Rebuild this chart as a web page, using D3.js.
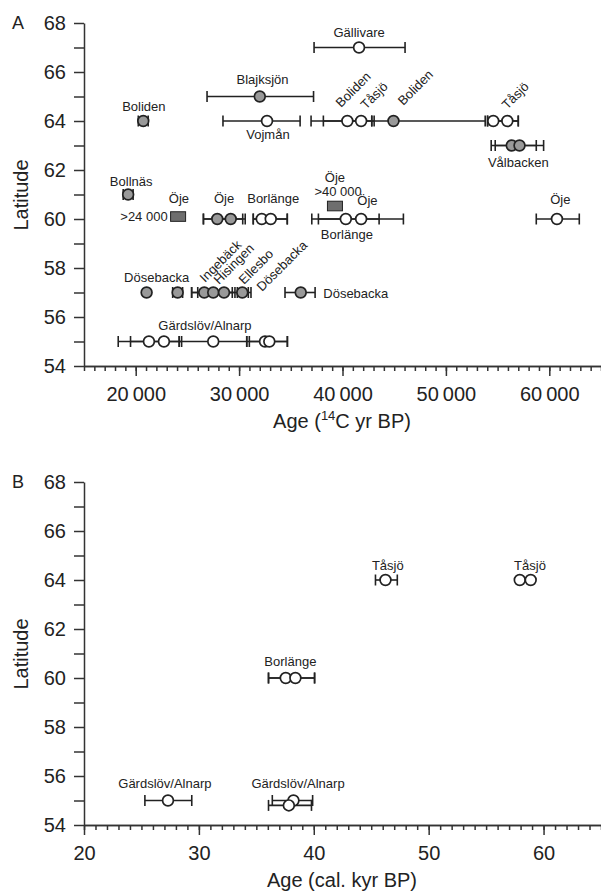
<!DOCTYPE html>
<html>
<head>
<meta charset="utf-8">
<script src="https://cdn.jsdelivr.net/npm/d3@7"></script>
<style>
  body { margin: 0; background: #fff; }
  svg { display: block; font-family: "Liberation Sans", Arial, sans-serif; }
  .axis path, .axis line { stroke: #333; stroke-width: 1.5; }
  .axis text { font-size: 20px; fill: #222; }
  .lbl { font-size: 13px; fill: #222; }
  .title { font-size: 20px; fill: #222; }
</style>
</head>
<body>
<svg id="chart" width="601" height="893"></svg>
<script>
// panel A: radiocarbon ages, [age, latitude, low, high, kind]
const pointsA = [
  [41600, 67, 37250, 46050, "open"],
  [32000, 65, 26900, 37200, "grey"],
  [20730, 64, 20250, 21210, "grey"],
  [32700, 64, 28440, 35900, "open"],
  [40470, 64, 36960, 42830, "open"],
  [41800, 64, 38150, 43060, "open"],
  [44930, 64, 42830, 53800, "grey"],
  [54580, 64, 54030, 57000, "open"],
  [55940, 64, 54030, 57000, "open"],
  [56370, 63, 54380, 58740, "grey"],
  [57120, 63, 54770, 59450, "grey"],
  [19270, 61, 18790, 19750, "grey"],
  [27890, 60, 26550, 30590, "grey"],
  [29190, 60, 26550, 30350, "grey"],
  [32190, 60, 31370, 34660, "open"],
  [33060, 60, 31370, 34660, "open"],
  [40320, 60, 37030, 43540, "open"],
  [41800, 60, 37670, 45890, "open"],
  [60740, 60, 58740, 62900, "open"],
  [21055, 57, 21055, 21055, "grey"],
  [24056, 57, 23576, 24536, "grey"],
  [26630, 57, 25410, 29340, "grey"],
  [27500, 57, 25410, 29600, "grey"],
  [28540, 57, 26000, 30890, "grey"],
  [30310, 57, 29830, 31150, "grey"],
  [35960, 57, 34440, 37350, "grey"],
  [21280, 55, 18310, 24210, "open"],
  [22730, 55, 19500, 24440, "open"],
  [27500, 55, 24210, 30740, "open"],
  [32507, 55, 30740, 34670, "open"],
  [32923, 55, 30990, 34670, "open"]
];
// minimum ages (>24 000, >40 000)
const boxesA = [
  [24100, 60.1],
  [39270, 60.53]
];
// [text, age, latitude, anchor, rotated]
const labelsA = [
  ["Gällivare", 41600, 67.43, "middle", false],
  ["Blajksjön", 32270, 65.51, "middle", false],
  ["Boliden", 20790, 64.41, "middle", false],
  ["Vojmån", 32790, 63.27, "middle", false],
  ["Boliden", 39860, 64.53, "start", true],
  ["Tåsjö", 42280, 64.45, "start", true],
  ["Boliden", 45870, 64.61, "start", true],
  ["Tåsjö", 55930, 64.45, "start", true],
  ["Vålbacken", 57000, 62.12, "middle", false],
  ["Bollnäs", 19560, 61.36, "middle", false],
  ["Öje", 24180, 60.64, "middle", false],
  [">24 000", 23090, 59.93, "end", false],
  ["Öje", 28540, 60.65, "middle", false],
  ["Borlänge", 33300, 60.65, "middle", false],
  ["Öje", 39270, 61.52, "middle", false],
  [">40 000", 39570, 60.95, "middle", false],
  ["Öje", 42410, 60.58, "middle", false],
  ["Borlänge", 40420, 59.17, "middle", false],
  ["Öje", 61060, 60.62, "middle", false],
  ["Dösebacka", 22020, 57.44, "middle", false],
  ["Ingebäck", 26700, 57.39, "start", true],
  ["Hisingen", 28060, 57.31, "start", true],
  ["Ellesbo", 30480, 57.31, "start", true],
  ["Dösebacka", 32220, 57.02, "start", true],
  ["Dösebacka", 38140, 56.76, "start", false],
  ["Gärdslöv/Alnarp", 26700, 55.47, "middle", false]
];

// panel B: calibrated ages (kyr)
const pointsB = [
  [46.24, 64, 45.37, 47.27, "open"],
  [57.93, 64, 57.93, 57.93, "open"],
  [58.88, 64, 58.88, 58.88, "open"],
  [37.56, 60, 36.06, 40.07, "open"],
  [38.40, 60, 36.06, 40.07, "open"],
  [27.31, 55, 25.30, 29.38, "open"],
  [38.23, 55, 36.39, 39.90, "open"],
  [37.83, 54.8, 36.06, 39.80, "open"]
];
const labelsB = [
  ["Tåsjö", 46.44, 64.40, "middle", false],
  ["Tåsjö", 58.82, 64.40, "middle", false],
  ["Borlänge", 37.96, 60.48, "middle", false],
  ["Gärdslöv/Alnarp", 27.04, 55.49, "middle", false],
  ["Gärdslöv/Alnarp", 38.63, 55.49, "middle", false]
];

const latTicks = d3.range(54, 69, 1);
const svg = d3.select("#chart");

function drawPanel(opt) {
  const x = d3.scaleLinear().domain(opt.xDomain).range([84, 601]);
  const y = d3.scaleLinear().domain([54, 68]).range([opt.bottom, opt.bottom - 343]);
  const g = svg.append("g");

  g.append("g").attr("class", "axis")
    .attr("transform", `translate(0,${opt.bottom})`)
    .call(d3.axisBottom(x).tickValues(opt.minor).tickSize(5).tickSizeOuter(0).tickFormat(""));
  g.append("g").attr("class", "axis")
    .attr("transform", `translate(0,${opt.bottom})`)
    .call(d3.axisBottom(x).tickValues(opt.major).tickSize(10).tickSizeOuter(0).tickPadding(11).tickFormat(opt.fmt));
  g.append("g").attr("class", "axis")
    .attr("transform", "translate(84,0)")
    .call(d3.axisLeft(y).tickValues(latTicks).tickSize(10).tickSizeOuter(0).tickPadding(8)
      .tickFormat(d => d % 2 === 0 ? d : ""));
  g.selectAll(".axis text").attr("fill", "#222");

  // error bars first
  const eb = g.append("g").attr("stroke", "#222").attr("stroke-width", 1.6);
  opt.points.filter(d => d[3] > d[2]).forEach(d => {
    const yy = y(d[1]);
    eb.append("line").attr("x1", x(d[2])).attr("x2", x(d[3])).attr("y1", yy).attr("y2", yy);
    [d[2], d[3]].forEach(v => {
      eb.append("line").attr("x1", x(v)).attr("x2", x(v)).attr("y1", yy - 5.5).attr("y2", yy + 5.5);
    });
  });

  g.append("g").selectAll("circle").data(opt.points).join("circle")
    .attr("cx", d => x(d[0]))
    .attr("cy", d => y(d[1]))
    .attr("r", 5.4)
    .attr("fill", d => d[4] === "grey" ? "#999" : "#fff")
    .attr("stroke", "#222")
    .attr("stroke-width", 1.7);

  g.append("g").selectAll("rect").data(opt.boxes || []).join("rect")
    .attr("x", d => x(d[0]) - 7.5)
    .attr("y", d => y(d[1]) - 4.8)
    .attr("width", 15)
    .attr("height", 9.6)
    .attr("fill", "#6e6e6e")
    .attr("stroke", "#222")
    .attr("stroke-width", 1);

  g.append("g").selectAll("text").data(opt.labels).join("text")
    .attr("class", "lbl")
    .attr("text-anchor", d => d[3])
    .attr("transform", d => `translate(${x(d[1])},${y(d[2])})` + (d[4] ? " rotate(-45)" : ""))
    .text(d => d[0]);

  g.append("text").attr("class", "title")
    .attr("x", 12).attr("y", opt.bottom - 337).style("font-size", "18px").text(opt.tag);
  g.append("text").attr("class", "title")
    .attr("text-anchor", "middle")
    .attr("transform", `translate(28,${opt.bottom - 171}) rotate(-90)`)
    .text("Latitude");
  const t = g.append("text").attr("class", "title")
    .attr("text-anchor", "middle")
    .attr("x", 342).attr("y", opt.bottom + 62);
  opt.title(t);
}

drawPanel({
  tag: "A",
  bottom: 366,
  xDomain: [15000, 65000],
  minor: d3.range(15000, 65001, 1000),
  major: d3.range(20000, 60001, 10000),
  fmt: d => d3.format("d")(d / 1000) + "\u2009000",
  points: pointsA,
  boxes: boxesA,
  labels: labelsA,
  title: t => {
    t.append("tspan").text("Age (");
    t.append("tspan").attr("dy", -8).style("font-size", "13px").text("14");
    t.append("tspan").attr("dy", 8).text("C yr BP)");
  }
});

drawPanel({
  tag: "B",
  bottom: 825,
  xDomain: [20, 65],
  minor: d3.range(20, 66, 1),
  major: d3.range(20, 61, 10),
  fmt: d3.format("d"),
  points: pointsB,
  labels: labelsB,
  title: t => t.text("Age (cal. kyr BP)")
});
</script>
</body>
</html>
